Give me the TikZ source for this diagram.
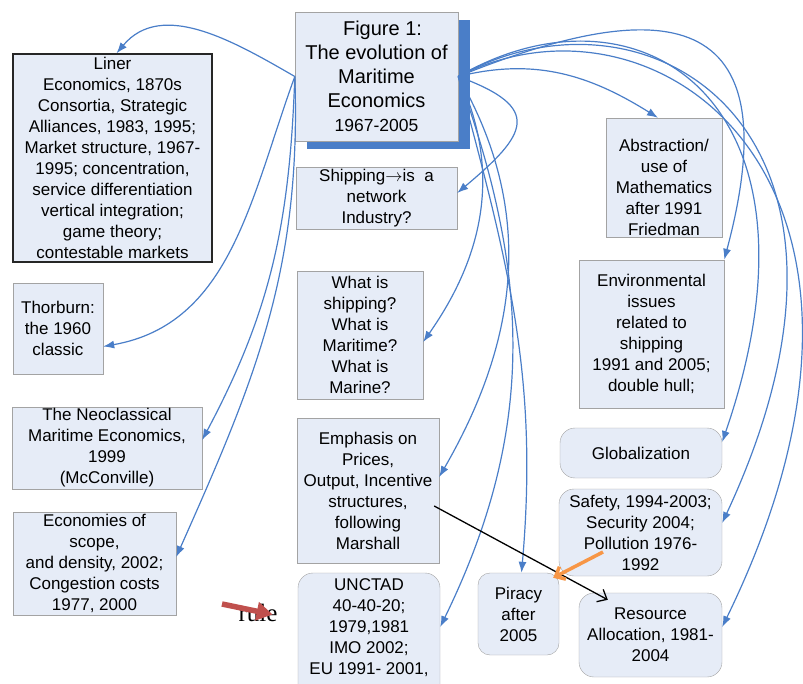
\documentclass[tikz,border=0pt]{standalone}
\usepackage{fontspec}
\setmainfont{Liberation Sans}
\newfontfamily\rulefont{Liberation Serif}
\usetikzlibrary{arrows.meta,shadows}

\definecolor{boxfill}{HTML}{E6ECF7}
\definecolor{boxline}{HTML}{A3A3A3}
\definecolor{linkblue}{HTML}{4A7EC8}
\definecolor{pirateorange}{HTML}{F79646}
\definecolor{rulered}{HTML}{C0504D}

\tikzstyle{topic}=[rectangle, draw=boxline, fill=boxfill, align=center, inner sep=0pt, font=\fontsize{17}{21}\selectfont]
\tikzstyle{rtopic}=[topic, rounded corners=15pt]
\tikzstyle{link}=[draw=linkblue, line width=1.2pt, -{Latex[length=11pt,width=8pt]}]

\begin{document}
\begin{tikzpicture}[x=1pt,y=-1pt]
\useasboundingbox (0,0) rectangle (803,684);

\node [topic, minimum width=163pt, minimum height=129pt, font=\fontsize{20}{24}\selectfont,
  drop shadow={shadow xshift=12pt,shadow yshift=-8pt,fill=linkblue,opacity=1}] (fig) at (376.5,76.5)
  {\hspace*{12pt}Figure 1:\\The evolution of\\Maritime\\Economics\\{\fontsize{17.5}{20}\selectfont 1967-2005}};

% left column
\node [topic, draw=black!85, line width=1.3pt, minimum width=199pt, minimum height=208pt] (liner) at (112.5,158)
  {Liner\\Economics, 1870s\\Consortia, Strategic\\Alliances, 1983, 1995;\\Market structure, 1967-\\1995; concentration,\\service differentiation\\vertical integration;\\game theory;\\contestable markets};
\node [topic, minimum width=90pt, minimum height=91pt] (thorburn) at (58,328.5) {Thorburn:\\the 1960\\classic};
\node [topic, minimum width=190pt, minimum height=82pt] (neo) at (107,448) {The Neoclassical\\Maritime Economics,\\1999\\(McConville)};
\node [topic, minimum width=163pt, minimum height=103pt] (econ) at (94.5,563.5) {Economies of\\scope,\\and density, 2002;\\Congestion costs\\1977, 2000};

% middle column
\node [topic, minimum width=161pt, minimum height=62pt] (network) at (376.5,198) {Shipping$\rightarrow$is\ \ a\\network\\Industry?};
\node [topic, minimum width=126pt, minimum height=128pt] (what) at (360,335) {What is\\shipping?\\What is\\Maritime?\\What is\\Marine?};
\node [topic, minimum width=142pt, minimum height=145pt] (emph) at (368,490.5) {Emphasis on\\Prices,\\Output, Incentive\\structures,\\following\\Marshall};
\node [rtopic, minimum width=142pt, minimum height=150pt] (unctad) at (369,648) {UNCTAD\\40-40-20;\\1979,1981\\IMO 2002;\\EU 1991- 2001,\\ \mbox{}\\ \mbox{}};
\node [rtopic, rounded corners=12pt, minimum width=81pt, minimum height=82pt] (piracy) at (518.5,614) {Piracy\\after\\2005};

% right column
\node [topic, minimum width=116pt, minimum height=119pt] (abstr) at (664,177.5) {\rule{0pt}{33pt}Abstraction/\\use of\\Mathematics\\after 1991\\Friedman};
\node [topic, minimum width=145pt, minimum height=148pt] (env) at (651.5,334) {Environmental\\issues\\related to\\shipping\\1991 and 2005;\\double hull;};
\node [rtopic, minimum width=162pt, minimum height=50pt] (glob) at (641,453) {Globalization};
\node [rtopic, minimum width=163pt, minimum height=87pt] (safety) at (640.5,532.5) {Safety, 1994-2003;\\Security 2004;\\Pollution 1976-\\1992};
\node [rtopic, minimum width=143pt, minimum height=84pt] (resource) at (650.5,635) {Resource\\Allocation, 1981-\\2004};

\node [inner sep=0pt, font=\rulefont\fontsize{25}{28}\selectfont] (rule) at (258,612.5) {rule};
\coordinate (rulestart) at (222,604);

\draw [link] (fig.west) to [out=150,in=50] ([xshift=4pt]liner.north);
\draw [link] (fig.west) to [out=250,in=10] ([yshift=-18pt]thorburn.east);
\draw [link] (fig.west) to [out=268,in=62] ([yshift=8pt]neo.east);
\draw [link] (fig.west) to [out=272,in=66] ([yshift=6.5pt]econ.east);
\draw [link] (fig.east) to [out=14,in=148] ([xshift=-6pt]abstr.north);
\draw [link] (fig.east) to [out=-20,in=40,looseness=2] ([yshift=5pt]network.east);
\draw [link] (fig.east) to [out=-65,in=55] ([yshift=-7pt]what.east);
\draw [link] (fig.east) to [out=-60,in=60] ([yshift=13.5pt]emph.east);
\draw [link] (fig.east) to [out=-75,in=85] ([xshift=3pt]piracy.north);
\draw [link] (fig.east) to [out=-70,in=64] ([yshift=21pt]unctad.east);
\draw [link] (fig.east) to [out=22,in=75,out looseness=1.6,in looseness=2.2] (env.north east);
\draw [link] (fig.east) to [out=30,in=71,out looseness=1.19,in looseness=2.04] ([yshift=11pt]glob.east);
\draw [link] (fig.east) to [out=29,in=65,out looseness=1.08,in looseness=2.14] ([yshift=9.5pt]safety.east);
\draw [link] (fig.east) to [out=27,in=64,out looseness=0.94,in looseness=2.07] ([yshift=8pt]resource.east);

\draw [line width=1.3pt, -{Straight Barb[length=8pt,width=14pt]}] ([xshift=-5pt,yshift=-15.5pt]emph.east) -- ([xshift=29pt,yshift=-7pt]resource.north west);
\draw [pirateorange, line width=3.5pt, -{Straight Barb[length=8pt,width=14pt]}] ([xshift=-37.5pt,yshift=-19.5pt]safety.center) -- ([xshift=-6pt,yshift=-5pt]piracy.north east);
\draw [rulered, line width=5.5pt, -{Triangle[length=16pt,width=18pt]}] (rulestart) -- ([xshift=-5pt,yshift=-2pt]rule.east);
\end{tikzpicture}
\end{document}
